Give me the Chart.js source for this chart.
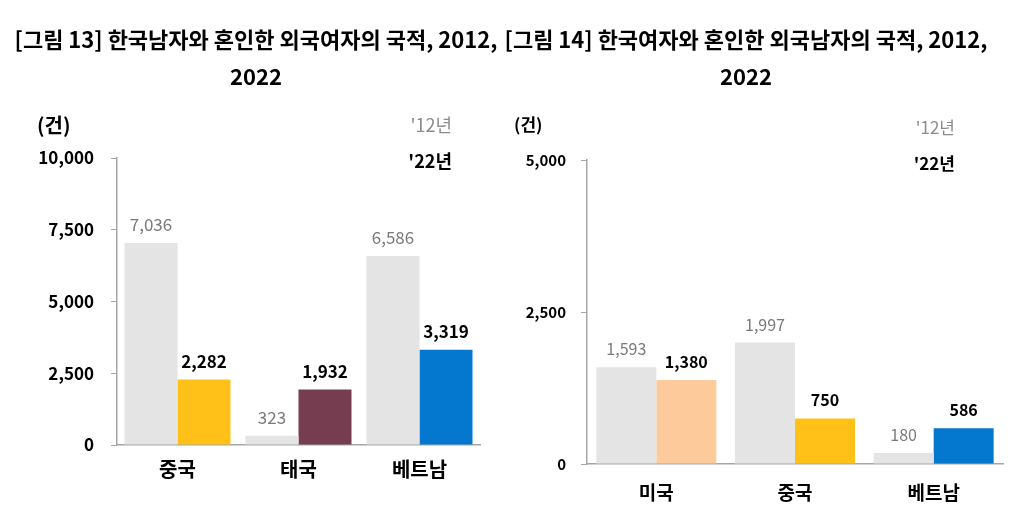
<!DOCTYPE html>
<html>
<head>
<meta charset="utf-8">
<title>외국인 배우자의 국적, 2012, 2022</title>
<script src="https://cdn.jsdelivr.net/npm/chart.js"></script>
<style>
    body { margin: 0; background: #fff; width: 1024px; height: 520px; overflow: hidden; position: relative; }
    canvas { position: absolute; top: 0; }
</style>
</head>
<body>
<canvas id="chartLeft" width="500" height="520" style="left:0"></canvas>
<canvas id="chartRight" width="524" height="520" style="left:500px"></canvas>

<script>
    const FONT = "'Noto Sans CJK KR', 'Noto Sans', sans-serif";

    // [그림 13] 한국남자와 혼인한 외국여자
    const wifeCountries = ['중국', '태국', '베트남'];
    const wife2012 = [7036, 323, 6586];
    const wife2022 = [2282, 1932, 3319];
    const wifeTicks = [0, 2500, 5000, 7500, 10000];

    // [그림 14] 한국여자와 혼인한 외국남자
    const husbandCountries = ['미국', '중국', '베트남'];
    const husband2012 = [1593, 1997, 180];
    const husband2022 = [1380, 750, 586];
    const husbandTicks = [0, 2500, 5000];

    const gray = '#e4e4e4';
    const fmt = v => v.toLocaleString('en-US');

    // titles, unit, year labels and value labels
    const textPlugin = {
        id: 'extraText',
        afterDatasetsDraw(chart, args, o) {
            const ctx = chart.ctx;
            ctx.save();
            ctx.textBaseline = 'alphabetic';
            ctx.textAlign = 'center';
            chart.data.datasets.forEach((ds, di) => {
                const meta = chart.getDatasetMeta(di);
                ctx.font = (di === 1 ? 'bold ' : '') + o.valueSize + 'px ' + FONT;
                ctx.fillStyle = di === 1 ? '#000' : '#7a7a7a';
                meta.data.forEach((bar, i) => {
                    ctx.fillText(fmt(ds.data[i]), bar.x, bar.y - 12);
                });
            });

            ctx.textBaseline = 'middle';
            ctx.fillStyle = '#000';
            ctx.font = 'bold 22px ' + FONT;
            o.title.forEach((line, k) => ctx.fillText(line, o.titleX, 40 + k * 37));

            ctx.textAlign = 'left';
            ctx.font = 'bold ' + o.unitSize + 'px ' + FONT;
            ctx.fillText('(건)', o.unitX, o.unitY);

            ctx.textAlign = 'right';
            ctx.font = o.yearSize + 'px ' + FONT;
            ctx.fillStyle = '#8c8c8c';
            ctx.fillText("'12년", o.yearX, o.yearY);
            ctx.font = 'bold ' + o.yearSize + 'px ' + FONT;
            ctx.fillStyle = '#000';
            ctx.fillText("'22년", o.yearX, o.yearY + 36);
            ctx.restore();
        }
    };

    function makeChart(id, labels, d12, d22, colors22, ticks, c) {
        return new Chart(document.getElementById(id), {
            type: 'bar',
            data: {
                labels: labels,
                datasets: [
                    { label: '2012', data: d12, backgroundColor: gray },
                    { label: '2022', data: d22, backgroundColor: colors22 }
                ]
            },
            options: {
                responsive: false,
                animation: false,
                layout: { padding: { left: 0, right: c.padRight, top: c.top, bottom: c.padBottom } },
                datasets: { bar: { categoryPercentage: c.catPct, barPercentage: 1.0, borderWidth: 0 } },
                scales: {
                    x: {
                        afterFit: s => { s.height = 40; },
                        grid: { display: false },
                        border: { display: true, color: '#a6a6a6', width: 1.5 },
                        ticks: { color: '#000', padding: c.xPad, font: { family: FONT, size: c.xSize, weight: 'bold' } }
                    },
                    y: {
                        min: 0,
                        max: ticks[ticks.length - 1],
                        afterFit: s => { s.width = c.axisLeft; },
                        afterBuildTicks: s => { s.ticks = ticks.map(v => ({ value: v })); },
                        grid: { drawOnChartArea: false, drawTicks: true, tickLength: 6, color: '#a6a6a6' },
                        border: { display: true, color: '#a6a6a6', width: 1.5 },
                        ticks: {
                            color: '#000', padding: c.yPad,
                            font: { family: FONT, size: c.ySize, weight: 'bold' },
                            callback: v => fmt(v)
                        }
                    }
                },
                plugins: {
                    legend: { display: false },
                    tooltip: { enabled: false },
                    extraText: c.text
                }
            },
            plugins: [textPlugin]
        });
    }

    makeChart('chartLeft', wifeCountries, wife2012, wife2022,
        ['#ffc118', '#763c50', '#0477ce'], wifeTicks, {
            axisLeft: 117, padRight: 20, top: 158, padBottom: 35, catPct: 0.876,
            xPad: 4, xSize: 20, yPad: 17, ySize: 17,
            text: {
                title: ['[그림 13] 한국남자와 혼인한 외국여자의 국적, 2012,', '2022'],
                titleX: 256, valueSize: 17,
                unitX: 37, unitY: 125, unitSize: 20,
                yearX: 452, yearY: 125, yearSize: 18
            }
        });

    makeChart('chartRight', husbandCountries, husband2012, husband2022,
        ['#fdcb9b', '#ffc118', '#0477ce'], husbandTicks, {
            axisLeft: 87, padRight: 21, top: 160, padBottom: 16, catPct: 0.865,
            xPad: 9, xSize: 19, yPad: 15, ySize: 15,
            text: {
                title: ['[그림 14] 한국여자와 혼인한 외국남자의 국적, 2012,', '2022'],
                titleX: 246, valueSize: 16,
                unitX: 14, unitY: 125, unitSize: 17,
                yearX: 455, yearY: 128, yearSize: 17
            }
        });
</script>
</body>
</html>
